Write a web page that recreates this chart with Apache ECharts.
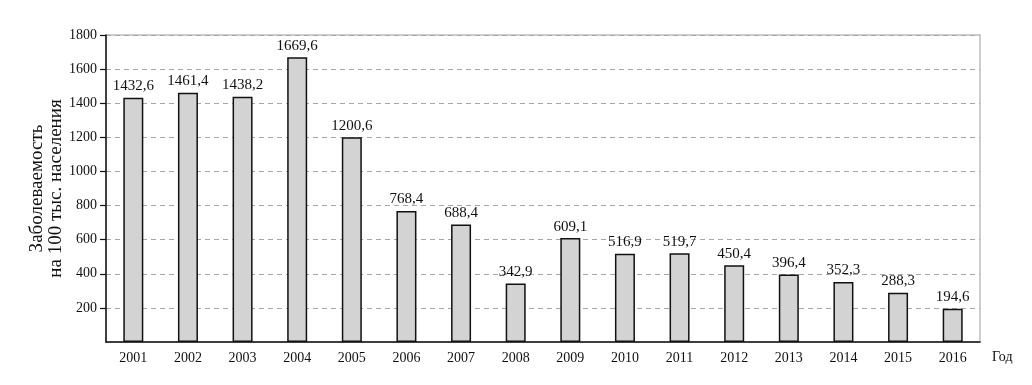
<!DOCTYPE html>
<html><head><meta charset="utf-8">
<script src="https://cdn.jsdelivr.net/npm/echarts@6/dist/echarts.min.js"></script>
<style>html,body{margin:0;padding:0;background:#fff}#c{width:1032px;height:385px}</style>
</head><body><div id="c"></div>
<script>
const years = ['2001','2002','2003','2004','2005','2006','2007','2008','2009','2010','2011','2012','2013','2014','2015','2016'];
const values = [1432.6,1461.4,1438.2,1669.6,1200.6,768.4,688.4,342.9,609.1,516.9,519.7,450.4,396.4,352.3,288.3,194.6];
const yTicks = [200,400,600,800,1000,1200,1400,1600,1800];
const font = 'Liberation Serif, Times New Roman, serif';
const chart = echarts.init(document.getElementById('c'));
chart.setOption({
  animation: false,
  grid: {left: 106, right: 52, top: 35, bottom: 43, show: true, borderColor: '#bdbdbd', borderWidth: 1.5, containLabel: false},
  xAxis: {
    type: 'category', data: years,
    name: 'Год', nameLocation: 'end', nameGap: 12,
    nameTextStyle: {fontFamily: font, fontSize: 14, color: '#111', verticalAlign: 'top', padding: [8,0,0,0]},
    axisLine: {lineStyle: {color: '#111', width: 1.5}},
    axisTick: {inside: true, length: 5, lineStyle: {color: '#111', width: 1.2}},
    axisLabel: {fontFamily: font, fontSize: 14, color: '#111', margin: 9},
    splitLine: {show: false}
  },
  yAxis: {
    type: 'value', min: 0, max: 1800, interval: 200,
    name: 'Заболеваемость\nна 100 тыс. населения', nameLocation: 'middle', nameGap: 40, nameRotate: 90,
    nameMoveOverlap: false,
    nameTextStyle: {fontFamily: font, fontSize: 19, color: '#111', lineHeight: 19},
    axisLine: {show: true, lineStyle: {color: '#111', width: 1.5}},
    axisTick: {show: true, length: 6, customValues: yTicks, lineStyle: {color: '#111', width: 1.2}},
    axisLabel: {fontFamily: font, fontSize: 14, color: '#111', margin: 9, customValues: yTicks,
      formatter: v => String(v)},
    splitLine: {show: true, lineStyle: {color: '#a8a8a8', type: [5,4], width: 1}}
  },
  series: [{
    type: 'bar', data: values, barWidth: 20,
    itemStyle: {color: '#d3d3d3', borderColor: '#111', borderWidth: 1.5},
    label: {show: true, position: 'top', distance: 4, fontFamily: font, fontSize: 15, color: '#111',
      formatter: p => String(p.value).replace('.', ',')}
  }]
});
</script></body></html>
